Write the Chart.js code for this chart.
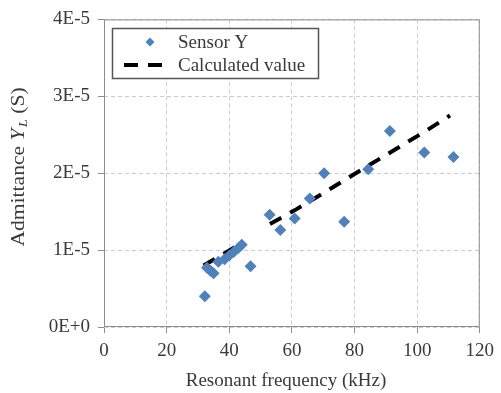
<!DOCTYPE html>
<html><head><meta charset="utf-8">
<script src="https://cdn.jsdelivr.net/npm/chart.js@4"></script>
<style>html,body{margin:0;padding:0;background:#fff}#c{display:block}</style>
</head><body>
<canvas id="c" width="501" height="393"></canvas>
<script>
const sensorX = [32.2, 32.9, 34.0, 35.0, 36.5, 38.5, 40.0, 41.5, 43.0, 44.0, 46.8, 52.9, 56.3, 60.9, 65.7, 70.3, 76.7, 84.4, 91.3, 102.3, 111.6];
const sensorY = [0.40e-5, 0.77e-5, 0.73e-5, 0.70e-5, 0.85e-5, 0.88e-5, 0.93e-5, 0.98e-5, 1.03e-5, 1.07e-5, 0.79e-5, 1.46e-5, 1.26e-5, 1.41e-5, 1.67e-5, 2.00e-5, 1.37e-5, 2.05e-5, 2.55e-5, 2.27e-5, 2.21e-5];
const calcX = [31.8, 44.0, 48.0, 53.0, 61.0, 70.0, 80.0, 91.0, 102.0, 110.5];
const calcY = [0.80e-5, 1.09e-5, null, 1.34e-5, 1.52e-5, 1.74e-5, 1.99e-5, 2.26e-5, 2.53e-5, 2.75e-5];
const xTicks = [0, 20, 40, 60, 80, 100, 120];
const yTickLabels = ['0E+0', '1E-5', '2E-5', '3E-5', '4E-5'];
const seriesNames = ['Sensor Y', 'Calculated value'];
const xTitle = 'Resonant frequency (kHz)';

const FONT = '"Liberation Serif", "Times New Roman", serif';
const FS = 19;
const BLUE = '#4f81bd';
const TXT = '#3a3a3a';

const frame = {
  id: 'frame',
  afterDraw(chart) {
    const {ctx, chartArea: a} = chart;
    ctx.save();
    ctx.strokeStyle = '#8c8c8c';
    ctx.lineWidth = 1;
    ctx.strokeRect(a.left + 0.5, a.top + 0.5, a.right - a.left - 1, a.bottom - a.top - 1);

    // x title
    ctx.fillStyle = TXT;
    ctx.font = FS + 'px ' + FONT;
    ctx.textAlign = 'center';
    ctx.textBaseline = 'alphabetic';
    ctx.fillText(xTitle, 286, 386);
    ctx.textAlign = 'left';

    // y title with italic Y and subscript L
    ctx.translate(24, 167);
    ctx.rotate(-Math.PI / 2);
    const F = 18, stretch = 1.2;
    const p1 = 'Admittance ', p2 = 'Y', p3 = 'L', p4 = ' (S)';
    ctx.font = F + 'px ' + FONT;
    const w1 = ctx.measureText(p1).width;
    ctx.font = 'italic ' + F + 'px ' + FONT;
    const w2 = ctx.measureText(p2).width + 1;
    ctx.font = 'italic ' + Math.round(F * 0.65) + 'px ' + FONT;
    const w3 = ctx.measureText(p3).width;
    ctx.font = F + 'px ' + FONT;
    const w4 = ctx.measureText(p4).width;
    ctx.scale(stretch, 1);
    let x = -(w1 + w2 + w3 + w4) / 2;
    const y = 0;
    ctx.font = F + 'px ' + FONT; ctx.fillText(p1, x, y); x += w1;
    ctx.font = 'italic ' + F + 'px ' + FONT; ctx.fillText(p2, x, y); x += w2;
    ctx.font = 'italic ' + Math.round(F * 0.65) + 'px ' + FONT; ctx.fillText(p3, x, y + 3); x += w3;
    ctx.font = F + 'px ' + FONT; ctx.fillText(p4, x, y);

    // legend
    ctx.setTransform(1, 0, 0, 1, 0, 0);
    const lx = 112, ly = 28, lw = 206, lh = 50;
    ctx.fillStyle = '#fff';
    ctx.fillRect(lx, ly, lw, lh);
    ctx.strokeStyle = '#555';
    ctx.lineWidth = 1.5;
    ctx.strokeRect(lx + 0.5, ly + 0.5, lw, lh);
    const mx = 150, my = 42;
    ctx.fillStyle = BLUE;
    ctx.beginPath();
    ctx.moveTo(mx, my - 4.5); ctx.lineTo(mx + 4.5, my); ctx.lineTo(mx, my + 4.5); ctx.lineTo(mx - 4.5, my); ctx.closePath();
    ctx.fill();
    ctx.strokeStyle = '#000';
    ctx.lineWidth = 4;
    ctx.setLineDash([14, 10]);
    ctx.beginPath();
    ctx.moveTo(124, 65); ctx.lineTo(170, 65);
    ctx.stroke();
    ctx.setLineDash([]);
    ctx.fillStyle = TXT;
    ctx.font = FS + 'px ' + FONT;
    ctx.textBaseline = 'middle';
    ctx.fillText(seriesNames[0], 178, 43);
    ctx.fillText(seriesNames[1], 178, 66);
    ctx.restore();
  }
};

new Chart(document.getElementById('c'), {
  type: 'scatter',
  data: {
    datasets: [
      {
        label: seriesNames[1],
        type: 'line',
        data: calcX.map((x, i) => ({x, y: calcY[i]})),
        borderColor: '#000',
        borderWidth: 4,
        borderDash: [13, 10],
        pointRadius: 0,
        spanGaps: false,
        fill: false,
        order: 2
      },
      {
        label: seriesNames[0],
        data: sensorX.map((x, i) => ({x, y: sensorY[i]})),
        pointStyle: 'rectRot',
        pointRadius: 6,
        backgroundColor: BLUE,
        borderColor: BLUE,
        borderWidth: 0,
        order: 1
      }
    ]
  },
  options: {
    responsive: false,
    animation: false,
    events: [],
    layout: {padding: {left: 0, right: 17, top: 15, bottom: 0}},
    plugins: {legend: {display: false}, tooltip: {enabled: false}},
    scales: {
      x: {
        type: 'linear', min: 0, max: 120,
        afterBuildTicks: s => { s.ticks = xTicks.map(v => ({value: v})); },
        afterFit: s => { s.height = 66; },
        grid: {color: '#cccccc', tickLength: 6, tickColor: '#8c8c8c', tickBorderDash: []},
        border: {display: false, dash: [4, 3]},
        ticks: {color: TXT, font: {family: FONT, size: FS}, padding: 7, maxRotation: 0}
      },
      y: {
        type: 'linear', min: 0, max: 4e-5,
        afterBuildTicks: s => { s.ticks = yTickLabels.map((t, i) => ({value: i * 1e-5})); },
        afterFit: s => { s.width = 104; },
        grid: {color: '#cccccc', tickLength: 6, tickColor: '#8c8c8c', tickBorderDash: []},
        border: {display: false, dash: [4, 3]},
        ticks: {color: TXT, font: {family: FONT, size: FS}, padding: 8,
          callback: (v) => yTickLabels[Math.round(v / 1e-5)]}
      }
    }
  },
  plugins: [frame]
});
</script>
</body></html>
